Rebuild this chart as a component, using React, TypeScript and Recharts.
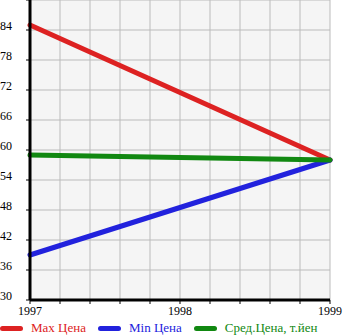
import { CartesianGrid, Legend, Line, LineChart, XAxis, YAxis } from "recharts"

const years = [1997, 1999]
const maxPrice = [85, 58]
const minPrice = [39, 58]
const avgPrice = [59, 58]

const xTicks = [
  1997, 1997.2, 1997.4, 1997.6, 1997.8, 1998, 1998.2, 1998.4, 1998.6, 1998.8, 1999,
]
const xLabels = [1997, 1998, 1999]
const yTicks = [30, 36, 42, 48, 54, 60, 66, 72, 78, 84, 90]
const yLabels = [30, 36, 42, 48, 54, 60, 66, 72, 78, 84]

const seriesNames = ["Max Цена", "Min Цена", "Сред.Цена, т.йен"]

const FONT = "'Liberation Serif', 'Times New Roman', serif"
const RED = "#dd2222"
const BLUE = "#2222dd"
const GREEN = "#118811"

const data = years.map((year, i) => ({
  year,
  max: maxPrice[i],
  min: minPrice[i],
  avg: avgPrice[i],
}))

function XTick(props: any) {
  const { x, y, payload } = props
  if (!xLabels.includes(payload.value)) return <g />
  return (
    <text x={x} y={y} dy={9} textAnchor="middle" fontSize={12} fontFamily={FONT} fill="#000">
      {payload.value}
    </text>
  )
}

function YTick(props: any) {
  const { y, payload } = props
  if (!yLabels.includes(payload.value)) return <g />
  return (
    <text x={0} y={y} textAnchor="start" fontSize={12} fontFamily={FONT} fill="#000">
      {payload.value}
    </text>
  )
}

function LegendBox() {
  const colors = [RED, BLUE, GREEN]
  return (
    <div
      style={{
        display: "flex",
        alignItems: "center",
        height: 14,
        fontFamily: FONT,
        fontSize: 13,
        whiteSpace: "nowrap",
      }}
    >
      {seriesNames.map((name, i) => (
        <div key={name} style={{ display: "flex", alignItems: "center", marginRight: 12 }}>
          <div
            style={{ width: 23, height: 5, borderRadius: 3, background: colors[i], marginRight: 8 }}
          />
          <span style={{ color: colors[i] }}>{name}</span>
        </div>
      ))}
    </div>
  )
}

export default function App() {
  return (
    <div style={{ position: "absolute", left: 0, top: 0, background: "#fff" }}>
      <LineChart width={345} height={335} data={data} margin={{ top: 0, right: 15, left: 0, bottom: 0 }}>
        <CartesianGrid stroke="#bbbbbb" fill="#f5f5f5" horizontalValues={yTicks} verticalValues={xTicks} />
        <XAxis
          dataKey="year"
          type="number"
          domain={[1997, 1999]}
          ticks={xTicks}
          interval={0}
          height={21}
          tickSize={4}
          tickMargin={2}
          tick={<XTick />}
          axisLine={{ stroke: "#000", strokeWidth: 3 }}
          tickLine={{ stroke: "#000", strokeWidth: 1 }}
        />
        <YAxis
          type="number"
          domain={[30, 90]}
          ticks={yTicks}
          interval={0}
          width={30}
          tickSize={4}
          tick={<YTick />}
          axisLine={{ stroke: "#000", strokeWidth: 3 }}
          tickLine={{ stroke: "#000", strokeWidth: 1 }}
        />
        <Legend verticalAlign="bottom" height={14} content={<LegendBox />} wrapperStyle={{ left: 0, width: 345 }} />
        <Line dataKey="max" stroke={RED} strokeWidth={5} strokeLinecap="round" dot={false} isAnimationActive={false} />
        <Line dataKey="min" stroke={BLUE} strokeWidth={5} strokeLinecap="round" dot={false} isAnimationActive={false} />
        <Line dataKey="avg" stroke={GREEN} strokeWidth={5} strokeLinecap="round" dot={false} isAnimationActive={false} />
      </LineChart>
    </div>
  )
}
